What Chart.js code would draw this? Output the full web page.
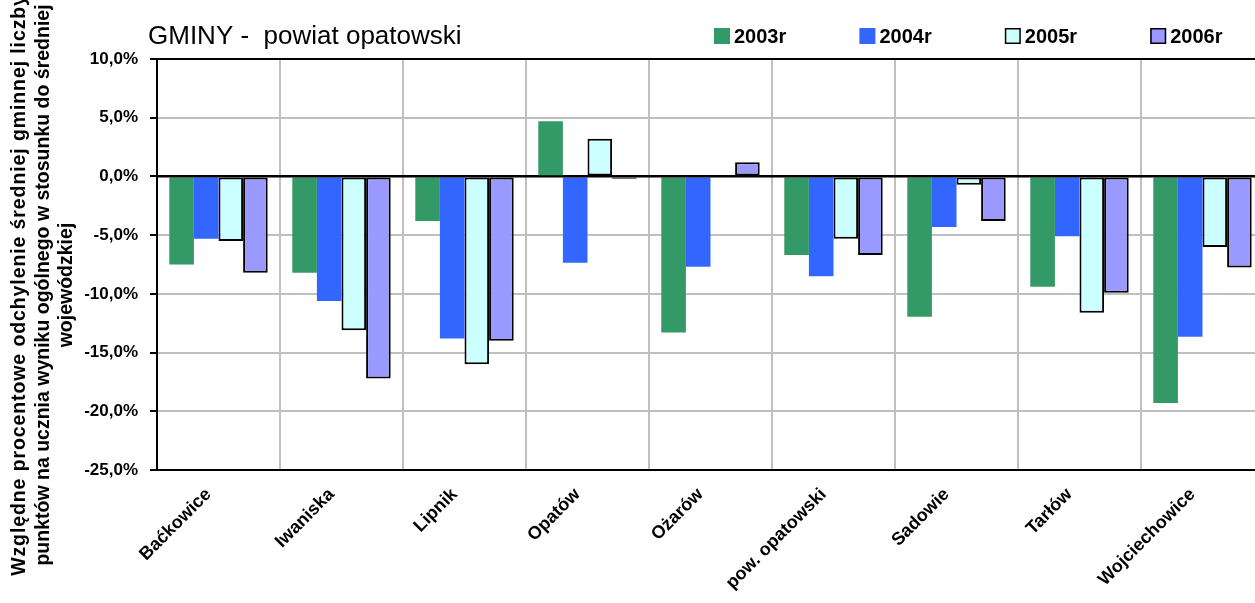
<!DOCTYPE html>
<html><head><meta charset="utf-8">
<script src="https://cdn.jsdelivr.net/npm/chart.js@4.4.1/dist/chart.umd.min.js"></script>
<style>html,body{margin:0;padding:0;background:#fff;overflow:hidden}</style>
</head><body>
<canvas id="c" width="1265" height="603"></canvas>
<script>
const chartTitle = 'GMINY -  powiat opatowski';
const yAxisTitle = [
  'Względne procentowe odchylenie średniej gminnej liczby',
  'punktów na ucznia wyniku ogólnego w stosunku do średniej',
  'wojewódzkiej'
];
const categories = ['Baćkowice','Iwaniska','Lipnik','Opatów','Ożarów','pow. opatowski','Sadowie','Tarłów','Wojciechowice'];
const seriesLabels = ['2003r','2004r','2005r','2006r'];
const v2003 = [-7.5, -8.2, -3.8, 4.7, -13.3, -6.7, -11.95, -9.4, -19.3];
const v2004 = [-5.3, -10.6, -13.8, -7.35, -7.7, -8.5, -4.3, -5.1, -13.65];
const v2005 = [-5.5, -13.1, -16.0, 3.2, null, -5.3, -0.7, -11.6, -6.0];
const v2006 = [-8.2, -17.2, -14.0, -0.2, 1.2, -6.7, -3.8, -9.9, -7.75];
const yMin = -25, yMax = 10, yStep = 5;

const FONT = '"Liberation Sans", Arial, sans-serif';

const decor = {
  id: 'decor',
  afterDatasetsDraw(chart) {
    const ctx = chart.ctx, a = chart.chartArea;
    const y0 = chart.scales.y.getPixelForValue(0);
    ctx.save();
    ctx.strokeStyle = '#000'; ctx.lineWidth = 2;
    ctx.beginPath(); ctx.moveTo(a.left, y0); ctx.lineTo(a.right, y0); ctx.stroke();
    ctx.restore();
  },
  afterDraw(chart) {
    const ctx = chart.ctx;
    ctx.save();
    ctx.fillStyle = '#000';
    ctx.textAlign = 'left'; ctx.textBaseline = 'alphabetic';
    ctx.font = '26px ' + FONT;
    ctx.fillText(chartTitle, 148, 44);
    ctx.font = 'bold 20px ' + FONT;
    chart.data.datasets.forEach((ds, i) => {
      const x = 714 + i * 145.4;
      ctx.fillStyle = ds.backgroundColor;
      ctx.fillRect(x, 28, 16, 16);
      if (ds.borderWidth) {
        ctx.strokeStyle = '#000'; ctx.lineWidth = 1.5;
        ctx.strokeRect(x + 0.75, 28.75, 14.5, 14.5);
      }
      ctx.fillStyle = '#000';
      ctx.fillText(ds.label, x + 20, 43);
    });
    ctx.font = 'bold 19.5px ' + FONT;
    ctx.textAlign = 'center'; ctx.textBaseline = 'middle';
    const xs = [20, 44, 67];
    const spacing = ['0.9px', '0px', '0px'];
    yAxisTitle.forEach((t, i) => {
      ctx.save(); ctx.translate(xs[i], 285); ctx.rotate(-Math.PI / 2);
      if ('letterSpacing' in ctx) ctx.letterSpacing = spacing[i];
      ctx.fillText(t, 0, 0); ctx.restore();
    });
    ctx.restore();
  }
};

new Chart(document.getElementById('c'), {
  type: 'bar',
  data: {
    labels: categories,
    datasets: [
      { label: seriesLabels[0], data: v2003, backgroundColor: '#339966', borderWidth: 0 },
      { label: seriesLabels[1], data: v2004, backgroundColor: '#3366FF', borderWidth: 0 },
      { label: seriesLabels[2], data: v2005, backgroundColor: '#CCFFFF', borderColor: '#000', borderWidth: 2, borderSkipped: false },
      { label: seriesLabels[3], data: v2006, backgroundColor: '#9999FF', borderColor: '#000', borderWidth: 2, borderSkipped: false }
    ]
  },
  options: {
    responsive: false,
    devicePixelRatio: 1,
    animation: false,
    categoryPercentage: 0.8,
    barPercentage: 1.0,
    layout: { padding: { top: 59, right: 1, left: 0, bottom: 0 } },
    plugins: { legend: { display: false }, title: { display: false }, tooltip: { enabled: false } },
    scales: {
      x: {
        grid: { offset: true, color: c => c.index === 0 ? 'rgba(0,0,0,0)' : '#c0c0c0', lineWidth: 2, drawTicks: false },
        border: { color: '#000', width: 2 },
        ticks: { autoSkip: false, maxRotation: 45, minRotation: 45, color: '#000',
                 font: { family: FONT, size: 18, weight: 'bold' }, padding: 14, labelOffset: -10 },
        afterFit: s => { s.height = 133; }
      },
      y: {
        min: yMin, max: yMax,
        ticks: { stepSize: yStep, color: '#000', padding: 12,
                 font: { family: FONT, size: 17, weight: 'bold' },
                 callback: v => v.toFixed(1).replace('.', ',') + '%' },
        grid: { color: c => (c.tick && [0, yMax, yMin].includes(c.tick.value)) ? '#000' : '#c0c0c0',
                lineWidth: 2, tickColor: '#000', tickLength: 7, tickWidth: 2 },
        border: { color: '#000', width: 2 },
        afterFit: s => { s.width = 157; }
      }
    }
  },
  plugins: [decor]
});
</script>
</body></html>
